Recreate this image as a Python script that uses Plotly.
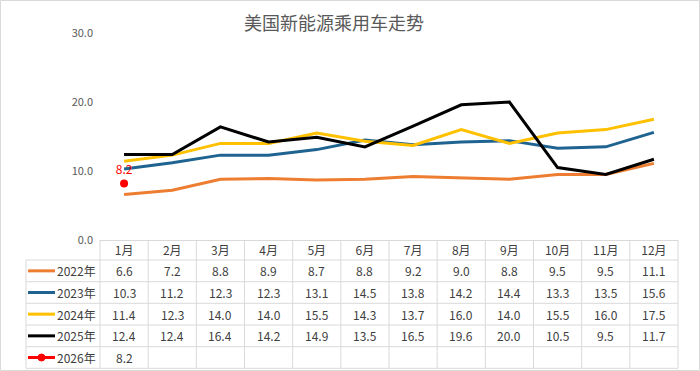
import plotly.graph_objects as go

months = ["1月", "2月", "3月", "4月", "5月", "6月", "7月", "8月", "9月", "10月", "11月", "12月"]
series_names = ["2022年", "2023年", "2024年", "2025年", "2026年"]
v2022 = [6.6, 7.2, 8.8, 8.9, 8.7, 8.8, 9.2, 9.0, 8.8, 9.5, 9.5, 11.1]
v2023 = [10.3, 11.2, 12.3, 12.3, 13.1, 14.5, 13.8, 14.2, 14.4, 13.3, 13.5, 15.6]
v2024 = [11.4, 12.3, 14.0, 14.0, 15.5, 14.3, 13.7, 16.0, 14.0, 15.5, 16.0, 17.5]
v2025 = [12.4, 12.4, 16.4, 14.2, 14.9, 13.5, 16.5, 19.6, 20.0, 10.5, 9.5, 11.7]
v2026 = [8.2]
y_ticks = [0, 10, 20, 30]

colors = ["#ED7D31", "#1F6391", "#FFC000", "#000000", "#FF0000"]
all_vals = [v2022, v2023, v2024, v2025, v2026]

W, H = 700, 371
L, R, T, B = 100, 678, 33, 240  # plot area in px
pw, ph = R - L, B - T

def px2x(px):
    return (px - L) / pw

def px2y(py):
    return (B - py) / ph

fig = go.Figure()
for name, vals, c in zip(series_names[:4], all_vals[:4], colors[:4]):
    fig.add_trace(go.Scatter(x=months[:len(vals)], y=vals, mode="lines", name=name,
                             line=dict(color=c, width=3), showlegend=False, hoverinfo="skip"))
fig.add_trace(go.Scatter(x=months[:1], y=v2026, mode="markers+text", name="2026年",
                         marker=dict(color="#FF0000", size=8),
                         text=[f"{v:.1f}" for v in v2026], textposition="top center",
                         textfont=dict(color="#FF0000", size=12, family="Noto Sans CJK SC"),
                         showlegend=False, hoverinfo="skip"))

grid = "#D9D9D9"
shapes = []
# outer border
shapes.append(dict(type="rect", xref="paper", yref="paper", x0=px2x(0.5), x1=px2x(699.5),
                   y0=px2y(0.5), y1=px2y(370.5), line=dict(color=grid, width=1)))
col_w = pw / 12
row_lines = [260, 281.7, 303.3, 325, 346.7, 368.3]
for py in row_lines:
    shapes.append(dict(type="line", xref="paper", yref="paper", x0=px2x(26), x1=px2x(R),
                       y0=px2y(py), y1=px2y(py), line=dict(color=grid, width=1)))
shapes.append(dict(type="line", xref="paper", yref="paper", x0=px2x(26), x1=px2x(26),
                   y0=px2y(260), y1=px2y(368.3), line=dict(color=grid, width=1)))
for k in range(13):
    xx = L + k * col_w
    shapes.append(dict(type="line", xref="paper", yref="paper", x0=px2x(xx), x1=px2x(xx),
                       y0=px2y(B), y1=px2y(368.3), line=dict(color=grid, width=1)))

annotations = []
font_tab = dict(family="Noto Sans CJK SC", size=12, color="#404040")
for r, (name, vals, c) in enumerate(zip(series_names, all_vals, colors)):
    yc = (row_lines[r] + row_lines[r + 1]) / 2
    shapes.append(dict(type="line", xref="paper", yref="paper", x0=px2x(28), x1=px2x(55),
                       y0=px2y(yc), y1=px2y(yc), line=dict(color=c, width=3)))
    if name == "2026年":
        shapes.append(dict(type="circle", xref="paper", yref="paper",
                           x0=px2x(38), x1=px2x(45), y0=px2y(yc + 3.5), y1=px2y(yc - 3.5),
                           fillcolor=c, line=dict(color=c, width=1)))
    annotations.append(dict(x=px2x(98), y=px2y(yc), xref="paper", yref="paper", text=name,
                            showarrow=False, xanchor="right", yanchor="middle", font=font_tab))
    for i, v in enumerate(vals):
        annotations.append(dict(x=months[i], y=px2y(yc), xref="x", yref="paper",
                                text=f"{v:.1f}", showarrow=False, xanchor="center",
                                yanchor="middle", font=font_tab))

annotations.append(dict(x=px2x(334), y=px2y(22), xref="paper", yref="paper",
                        text="美国新能源乘用车走势", showarrow=False, xanchor="center",
                        yanchor="middle",
                        font=dict(family="Noto Sans CJK SC", size=18, color="#595959")))

fig.update_layout(
    width=W, height=H,
    margin=dict(l=L, r=W - R, t=T, b=H - B, pad=0),
    paper_bgcolor="white", plot_bgcolor="white",
    shapes=shapes, annotations=annotations,
    font=dict(family="Noto Sans CJK SC"),
    hovermode=False,
)
fig.update_xaxes(type="category", categoryorder="array", categoryarray=months,
                 range=[-0.5, 11.5], showgrid=False, zeroline=False,
                 showline=True, linecolor=grid, linewidth=1, ticks="",
                 tickfont=dict(family="Noto Sans CJK SC", size=12, color="#404040"))
fig.update_yaxes(range=[0, 30], tickvals=y_ticks, ticktext=[f"{v:.1f}" for v in y_ticks],
                 showgrid=False, zeroline=False, showline=False, ticks="",
                 ticklabelstandoff=6,
                 tickfont=dict(family="Noto Sans CJK SC", size=11, color="#595959"))

fig.write_html("out.html", config={"displayModeBar": False},
               post_script="document.body.style.margin='0';")
